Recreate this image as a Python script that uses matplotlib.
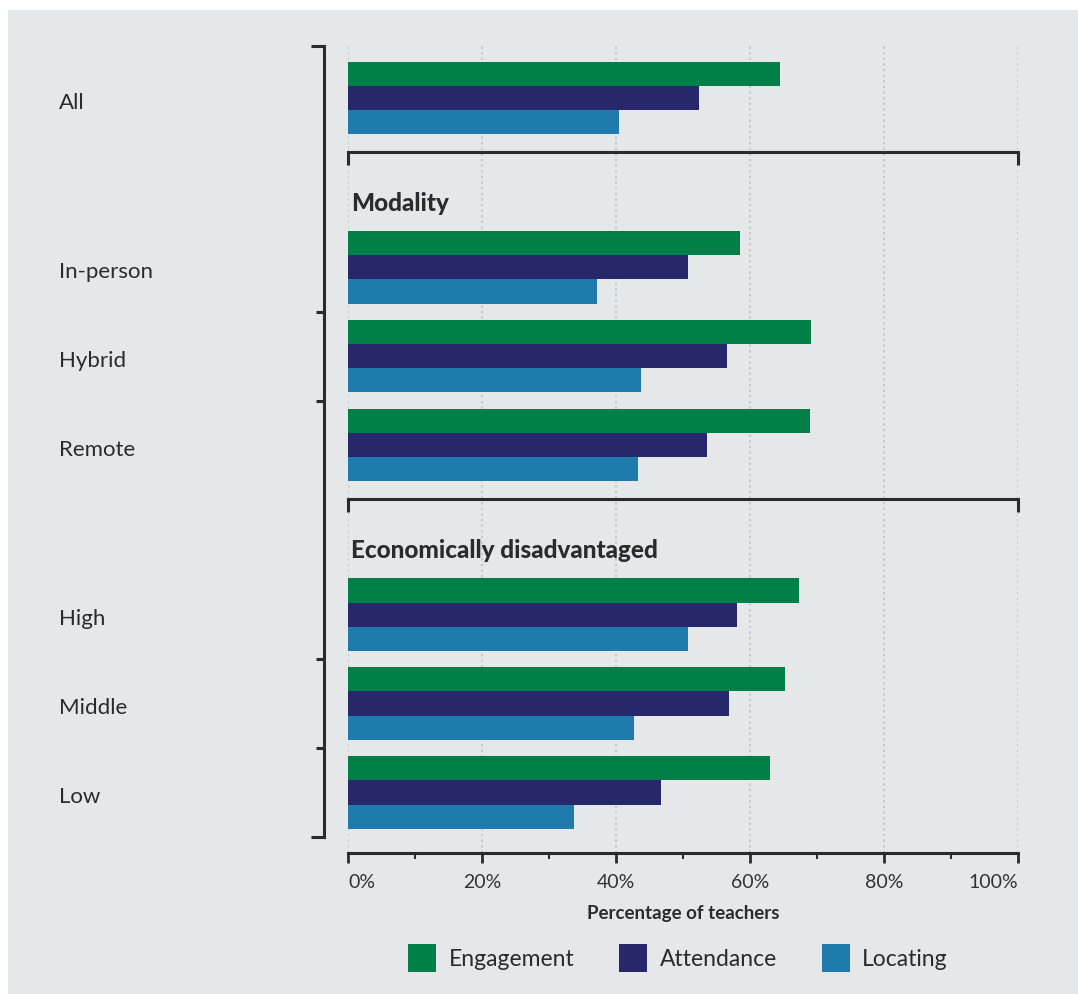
import matplotlib
matplotlib.use("Agg")
import matplotlib.pyplot as plt
import matplotlib.transforms as mtransforms
from matplotlib.patches import Patch, Rectangle
import numpy as np

# ---- data -------------------------------------------------------------
categories = ["All", "In-person", "Hybrid", "Remote", "High", "Middle", "Low"]
section_of = [0, 1, 1, 1, 2, 2, 2]
section_titles = ["", "Modality", "Economically disadvantaged"]

series_names = ["Engagement", "Attendance", "Locating"]
engagement = [64.5, 58.5, 69.1, 69.0, 67.3, 65.2, 63.0]
attendance = [52.4, 50.7, 56.6, 53.6, 58.1, 56.9, 46.7]
locating = [40.4, 37.2, 43.7, 43.3, 50.7, 42.7, 33.7]

x_ticks = [0, 20, 40, 60, 80, 100]
x_tick_labels = ["0%", "20%", "40%", "60%", "80%", "100%"]
x_label = "Percentage of teachers"

# ---- style --------------------------------------------------------------
colors = ["#007f46", "#27286b", "#1f7aae"]
BG = "#e6e7e9"
INK = "#2b2b2b"
GRID = "#c6c7c9"
FONT = "Lato"

W, H, DPI = 1078, 994, 100
plt.rcParams["font.family"] = FONT

fig = plt.figure(figsize=(W / DPI, H / DPI), dpi=DPI)
fig.patch.set_facecolor("white")
fig.add_artist(Rectangle((8 / W, 0), 1 - 8 / W, (H - 10) / H,
                         transform=fig.transFigure, facecolor=BG,
                         edgecolor="none", zorder=-10))

ax = fig.add_axes([348 / W, 1 - 853 / H, 670 / W, (853 - 45) / H])
ax.set_facecolor("none")

# row positions: one unit per category, extra gap before each new section
section_gap = 0.9
pos = np.arange(len(categories)) + section_gap * np.array(section_of)
bar_h = 0.27

for k, (name, vals, col) in enumerate(zip(series_names,
                                          [engagement, attendance, locating],
                                          colors)):
    ax.barh(pos + (k - 1) * bar_h, vals, height=bar_h, color=col,
            label=name, zorder=3, linewidth=0)

ax.set_xlim(0, 100)
ax.set_ylim(pos[-1] + 0.68, pos[0] - 0.6)
ax.set_yticks([])

# dotted vertical grid
ax.set_axisbelow(True)
ax.grid(axis="x", which="major", color=GRID, linewidth=1.5,
        linestyle=(0, (1, 1.7)))

for s in ["top", "left", "right"]:
    ax.spines[s].set_visible(False)
ax.spines["bottom"].set_color(INK)
ax.spines["bottom"].set_linewidth(2.2)

ax.set_xticks(x_ticks, labels=x_tick_labels)
ax.set_xticks(np.arange(10, 100, 20), minor=True)
ax.tick_params(axis="x", which="major", length=7, width=2, color=INK,
               labelsize=14, labelcolor="#333333", pad=8)
ax.tick_params(axis="x", which="minor", length=4.3, width=1.5, color=INK)
tl = ax.get_xticklabels()
tl[0].set_ha("left")
tl[-1].set_ha("right")

ax.set_xlabel(x_label, fontsize=13.5, fontweight="bold", color=INK, labelpad=10)

# section separators and headings
tick_drop = 0.15
for sec in range(1, len(section_titles)):
    idx = [i for i, s in enumerate(section_of) if s == sec]
    prev = [i for i, s in enumerate(section_of) if s == sec - 1]
    y_sep = pos[prev[-1]] + 0.6
    ax.plot([0, 0, 100, 100], [y_sep + tick_drop, y_sep, y_sep, y_sep + tick_drop],
            color=INK, linewidth=2.2, clip_on=False, zorder=4,
            solid_joinstyle="miter", solid_capstyle="butt")
    ax.text(0.45, pos[idx[0]] - 0.74, section_titles[sec], fontsize=17.5,
            fontweight="black", color=INK, va="center_baseline", ha="left")

# category labels and left bracket
blend = mtransforms.blended_transform_factory(fig.transFigure, ax.transData)
for p, cat in zip(pos, categories):
    ax.text(59 / W, p + 0.025, cat, transform=blend, fontsize=16, color=INK,
            va="center_baseline", ha="left")

y_top = pos[0] - 0.59
y_bot = pos[-1] + 0.5
xb = 324 / W
ax.plot([311 / W, xb, xb, 311 / W], [y_top, y_top, y_bot, y_bot],
        transform=blend, color=INK, linewidth=2.2, clip_on=False,
        solid_joinstyle="miter", solid_capstyle="butt")
for i in range(len(pos) - 1):
    if section_of[i] == section_of[i + 1]:
        ym = (pos[i] + pos[i + 1]) / 2
        ax.plot([316 / W, xb], [ym, ym], transform=blend, color=INK,
                linewidth=2.2, clip_on=False, solid_capstyle="butt")

# legend
handles = [Patch(facecolor=c, edgecolor="none") for c in colors]
fig.legend(handles, series_names, loc="center", bbox_to_anchor=(678 / W, 1 - 958 / H),
           ncol=3, frameon=False, fontsize=16.5, handlelength=1.22,
           handleheight=1.5, handletextpad=0.55, columnspacing=1.95,
           labelcolor=INK)

fig.savefig("out.png", dpi=DPI)
